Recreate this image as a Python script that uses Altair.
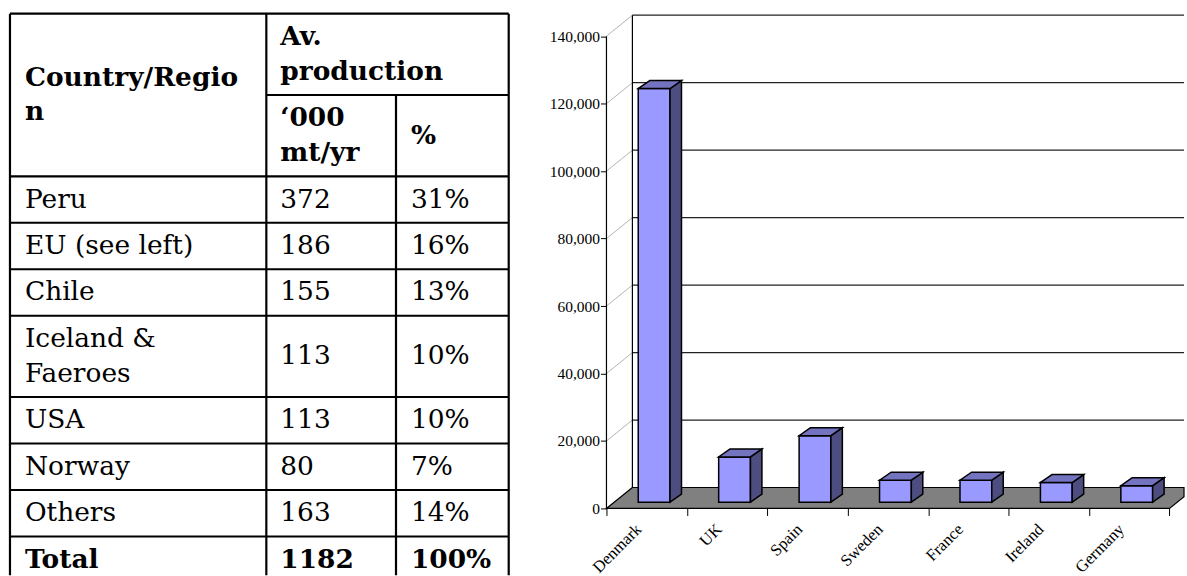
import altair as alt
import pandas as pd

# ---------------- table: fish-meal production by country/region ----------------
regions = ["Peru", "EU (see left)", "Chile", "Iceland &\nFaeroes", "USA",
           "Norway", "Others", "Total"]
volume_kt = [372, 186, 155, 113, 113, 80, 163, 1182]
share_pct = [31, 16, 13, 10, 10, 7, 14, 100]
head_region = "Country/Regio\nn"
head_group = "Av.\nproduction"
head_volume = "\u2018000\nmt/yr"
head_share = "%"

# ---------------- bar chart: EU member states ----------------
countries = ["Denmark", "UK", "Spain", "Sweden", "France", "Ireland", "Germany"]
production = [122600, 13400, 19700, 6500, 6500, 5800, 4900]
y_ticks = list(range(0, 140001, 20000))

TABLE_FONT = "DejaVu Serif"
CHART_FONT = "Liberation Serif"

# ---------------- table layout ----------------
TABLE_W, TABLE_H = 520, 576
col_widths = [257, 130, 113]
left, top = 10, 13
line_h, cell_pad = 34.9, 11.7
TEXT_LH = 35


def row_height(n_lines):
    return n_lines * line_h + cell_pad


edges = [left]
for w in col_widths:
    edges.append(edges[-1] + w)

sub_h = row_height(2)
head_bottom = top + 2 * sub_h
row_tops = [head_bottom]
for r in regions:
    row_tops.append(row_tops[-1] + row_height(r.count("\n") + 1))
# the last row runs past the bottom of the canvas
visible_bottom = min(row_tops[-1], TABLE_H)

h_rules = [
    {"x": edges[0], "x2": edges[3], "y": top},
    {"x": edges[1], "x2": edges[3], "y": top + sub_h},
] + [{"x": edges[0], "x2": edges[3], "y": y} for y in row_tops if y < TABLE_H]
v_rules = [
    {"x": edges[0], "y": top, "y2": visible_bottom},
    {"x": edges[1], "y": top, "y2": visible_bottom},
    {"x": edges[2], "y": top + sub_h, "y2": visible_bottom},
    {"x": edges[3], "y": top, "y2": visible_bottom},
]


def cell(x, y_center, text):
    # multi-line text: first line sits above the centre so the block is centred
    n_lines = text.count("\n") + 1
    return {"x": x, "y": y_center - (n_lines - 1) * TEXT_LH / 2, "t": text}


bold_cells = [
    cell(edges[0] + 15, (top + head_bottom) / 2, head_region),
    cell(edges[1] + 14, top + sub_h / 2, head_group),
    cell(edges[1] + 14, top + 1.5 * sub_h, head_volume),
    cell(edges[2] + 15, top + 1.5 * sub_h, head_share),
]
plain_cells = []
for i, r in enumerate(regions):
    yc = (row_tops[i] + row_tops[i + 1]) / 2
    cells = [
        cell(edges[0] + 15, yc, r),
        cell(edges[1] + 14, yc, str(volume_kt[i])),
        cell(edges[2] + 15, yc, f"{share_pct[i]}%"),
    ]
    (bold_cells if r == "Total" else plain_cells).extend(cells)

tx = alt.Scale(domain=[0, TABLE_W], nice=False, zero=False)
ty = alt.Scale(domain=[0, TABLE_H], reverse=True, nice=False, zero=False)


def TX(f):
    return alt.X(f, type="quantitative", scale=tx, axis=None)


def TY(f):
    return alt.Y(f, type="quantitative", scale=ty, axis=None)


hr = alt.Chart(pd.DataFrame(h_rules)).mark_rule(
    color="black", strokeWidth=2.2
).encode(x=TX("x"), x2="x2", y=TY("y"))
vr = alt.Chart(pd.DataFrame(v_rules)).mark_rule(
    color="black", strokeWidth=2.2
).encode(x=TX("x"), y=TY("y"), y2="y2")

text_style = dict(align="left", baseline="middle", font=TABLE_FONT, fontSize=26.5,
                  lineBreak="\n", lineHeight=TEXT_LH, color="black")
plain = alt.Chart(pd.DataFrame(plain_cells)).mark_text(**text_style).encode(
    x=TX("x"), y=TY("y"), text="t:N")
bold = alt.Chart(pd.DataFrame(bold_cells)).mark_text(fontWeight="bold", **text_style).encode(
    x=TX("x"), y=TY("y"), text="t:N")

table = alt.layer(hr, vr, plain, bold).properties(width=TABLE_W, height=TABLE_H)

# ---------------- pseudo-3D column chart ----------------
PLOT_W, PLOT_H = 579, 509
KX = 80.64                       # pixels per category
X_MAX = PLOT_W / KX
Y_MAX = 150500
KY = PLOT_H / Y_MAX              # pixels per tonne
n = len(countries)

wall_dx, wall_dy = 26 / KX, 21 / KY     # depth of the floor / side wall
bar_x0, bar_w = 0.395, 0.395            # front face within each category
bar_base = 6.3 / KY                     # front face sits slightly back on the floor
bar_dx, bar_dy = 11.5 / KX, 8 / KY      # depth of each column

xs = alt.Scale(domain=[0, X_MAX], nice=False, zero=False)
ys = alt.Scale(domain=[0, Y_MAX], nice=False, zero=False)

# ticks sit on the category boundaries; each label is shifted to its category
# centre, except the closing boundary, which carries no label at all
label_expr = "[" + ",".join(f"'{c}'" for c in countries) + "][datum.value] || ''"
last_tick = f"datum.value >= {n}"
x_axis = alt.Axis(values=list(range(n + 1)), tickSize=7, tickColor="black", domain=False,
                  grid=False, labelExpr=label_expr, labelAngle=315, labelAlign="right",
                  labelBaseline="middle",
                  labelOffset={"condition": {"test": last_tick, "value": 0}, "value": 32},
                  labelFontSize={"condition": {"test": last_tick, "value": 0}, "value": 16.5},
                  labelPadding=11, labelFont=CHART_FONT, labelColor="black",
                  labelOverlap=False, labelFlush=False, labelBound=False, title=None)
y_axis = alt.Axis(values=y_ticks, format=",d", tickSize=6, tickColor="black", domain=False,
                  grid=False, labelPadding=1, labelFont=CHART_FONT, labelFontSize=15.5,
                  labelColor="black", minExtent=58, maxExtent=58, title=None)


def X(f):
    return alt.X(f, type="quantitative", scale=xs, axis=x_axis)


def Y(f):
    return alt.Y(f, type="quantitative", scale=ys, axis=y_axis)


# the back wall and the floor run on past the right edge of the plot;
# they are cut at X_MAX so nothing spills outside the view
diag = pd.DataFrame([{"x": 0, "y": v, "x2": wall_dx, "y2": v + wall_dy} for v in y_ticks[1:]])
wall_h = pd.DataFrame([{"x": wall_dx, "x2": X_MAX, "y": v + wall_dy} for v in y_ticks[1:]])
wall_v = pd.DataFrame([{"x": wall_dx, "y": wall_dy, "y2": y_ticks[-1] + wall_dy}])
cut_y = (X_MAX - n) / wall_dx * wall_dy   # where the floor's right edge meets X_MAX
floor = pd.DataFrame([
    {"y": 0, "x": 0, "x2": n},
    {"y": cut_y, "x": cut_y / wall_dy * wall_dx, "x2": X_MAX},
    {"y": wall_dy, "x": wall_dx, "x2": X_MAX},
])
y_line = pd.DataFrame([{"x": 0, "y": 0, "y2": y_ticks[-1]}])

front = pd.DataFrame([
    {"x": i + bar_x0, "x2": i + bar_x0 + bar_w, "y": bar_base, "y2": bar_base + v}
    for i, v in enumerate(production)
])
side_rows, top_rows = [], []
for i, v in enumerate(production):
    xr = i + bar_x0 + bar_w
    side_rows += [
        {"bar": i, "x": xr, "y": bar_base, "y2": bar_base + v},
        {"bar": i, "x": xr + bar_dx, "y": bar_base + bar_dy, "y2": bar_base + bar_dy + v},
    ]
    top_rows += [
        {"bar": i, "y": bar_base + v, "x": i + bar_x0, "x2": xr},
        {"bar": i, "y": bar_base + v + bar_dy, "x": i + bar_x0 + bar_dx, "x2": xr + bar_dx},
    ]
side = pd.DataFrame(side_rows)
top_face = pd.DataFrame(top_rows)

l_diag = alt.Chart(diag).mark_rule(color="#b4b4b4", strokeWidth=1).encode(
    x=X("x"), y=Y("y"), x2="x2", y2="y2")
l_wall_h = alt.Chart(wall_h).mark_rule(color="#222222", strokeWidth=1.2).encode(
    x=X("x"), x2="x2", y=Y("y"))
l_wall_v = alt.Chart(wall_v).mark_rule(color="black", strokeWidth=1.2).encode(
    x=X("x"), y=Y("y"), y2="y2")
l_floor = alt.Chart(floor).mark_area(
    orient="horizontal", color="#808080", stroke="black", strokeWidth=1.2, opacity=1
).encode(y=Y("y"), x=X("x"), x2="x2")
l_yline = alt.Chart(y_line).mark_rule(color="black", strokeWidth=1.2).encode(
    x=X("x"), y=Y("y"), y2="y2")
l_front = alt.Chart(front).mark_rect(color="#9999FF", stroke="black", strokeWidth=1.5).encode(
    x=X("x"), x2="x2", y=Y("y"), y2="y2")
l_side = alt.Chart(side).mark_area(
    color="#4D4D80", stroke="black", strokeWidth=1.5, opacity=1
).encode(x=X("x"), y=Y("y"), y2="y2", detail="bar:N")
l_top = alt.Chart(top_face).mark_area(
    orient="horizontal", color="#7373BF", stroke="black", strokeWidth=1.5, opacity=1
).encode(y=Y("y"), x=X("x"), x2="x2", detail="bar:N")

bars = alt.layer(l_diag, l_wall_h, l_wall_v, l_floor, l_yline, l_front, l_side, l_top).properties(
    width=PLOT_W, height=PLOT_H)

chart = alt.hconcat(table, bars, spacing=30).properties(
    padding={"left": 0, "top": 0, "right": 0, "bottom": 0}
).configure_view(strokeWidth=0)
chart.save("out.html", embed_options={"renderer": "svg", "actions": False})
